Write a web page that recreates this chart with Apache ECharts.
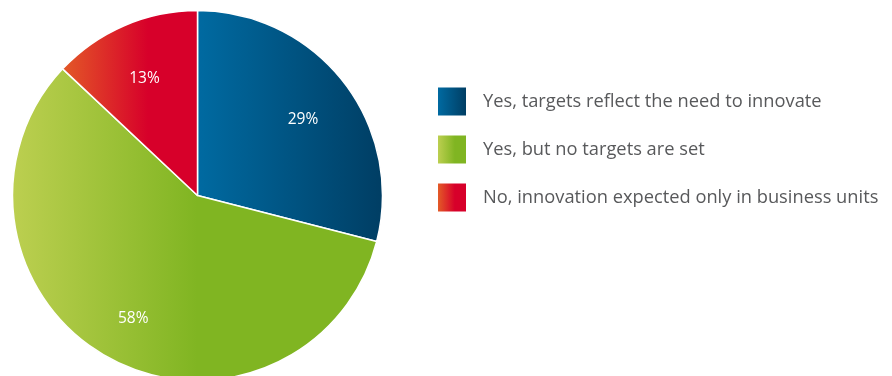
<!DOCTYPE html>
<html>
<head>
<meta charset="utf-8">
<script src="https://cdn.jsdelivr.net/npm/echarts@6/dist/echarts.min.js"></script>
<style>
  html, body { margin: 0; padding: 0; background: #fff; }
  #chart { width: 892px; height: 376px; }
</style>
</head>
<body>
<div id="chart"></div>
<script>
// Survey answers and their shares (%)
const categories = [
  'Yes, targets reflect the need to innovate',
  'Yes, but no targets are set',
  'No, innovation expected only in business units'
];
const shares = [29, 58, 13];
const valueLabels = ['29%', '58%', '13%'];

const cx = 197.5, cy = 195.5, R = 185;

// Horizontal gradients across each slice (page coordinates)
const sliceFills = [
  { type: 'linear', global: true, x: 198, y: 0, x2: 382, y2: 0,
    colorStops: [{ offset: 0, color: '#006aa1' }, { offset: 1, color: '#003e64' }] },
  { type: 'linear', global: true, x: 13, y: 0, x2: 197, y2: 0,
    colorStops: [{ offset: 0, color: '#bccf50' }, { offset: 1, color: '#80b522' }] },
  { type: 'linear', global: true, x: 60, y: 0, x2: 148, y2: 0,
    colorStops: [{ offset: 0, color: '#e35b27' }, { offset: 1, color: '#d7002a' }] }
];
// Same ramps for the legend swatches (relative to each swatch)
const swatchFills = [
  { type: 'linear', x: 0, y: 0, x2: 1, y2: 0,
    colorStops: [{ offset: 0, color: '#006aa1' }, { offset: 1, color: '#003e64' }] },
  { type: 'linear', x: 0, y: 0, x2: 1, y2: 0,
    colorStops: [{ offset: 0, color: '#bccf50' }, { offset: 0.6, color: '#80b522' }, { offset: 1, color: '#80b522' }] },
  { type: 'linear', x: 0, y: 0, x2: 1, y2: 0,
    colorStops: [{ offset: 0, color: '#e35b27' }, { offset: 0.6, color: '#d7002a' }, { offset: 1, color: '#d7002a' }] }
];

const chart = echarts.init(document.getElementById('chart'), null, { renderer: 'canvas' });

const pieData = categories.map((name, i) => ({
  name, value: shares[i], itemStyle: { color: sliceFills[i] }
}));
const labelData = categories.map((name, i) => ({
  name, value: shares[i], label: { formatter: valueLabels[i] }
}));

chart.setOption({
  animation: false,
  legend: {
    orient: 'vertical',
    left: 438,
    top: 87.5,
    padding: 0,
    itemWidth: 28,
    itemHeight: 28,
    itemGap: 20,
    icon: 'rect',
    selectedMode: false,
    itemStyle: { borderWidth: 0 },
    textStyle: {
      fontFamily: 'Open Sans',
      fontSize: 18.3,
      color: '#58595b',
      padding: [0, 0, 0, 12]
    },
    data: categories.map((name, i) => ({ name, itemStyle: { color: swatchFills[i], borderWidth: 0 } }))
  },
  series: [
    {
      type: 'pie',
      center: [cx, cy],
      radius: [0, R],
      startAngle: 90,
      clockwise: true,
      silent: true,
      label: { show: false },
      labelLine: { show: false },
      itemStyle: { borderColor: '#ffffff', borderWidth: 1.5 },
      data: pieData
    },
    {
      // transparent ring that only carries the percentage labels
      type: 'pie',
      center: [cx, cy],
      radius: [76, R],
      startAngle: 90,
      clockwise: true,
      silent: true,
      legendHoverLink: false,
      itemStyle: { color: 'rgba(0,0,0,0)' },
      label: {
        show: true,
        position: 'inside',
        color: '#ffffff',
        fontFamily: 'Open Sans',
        fontSize: 15.5
      },
      labelLayout: { dy: 6 },
      labelLine: { show: false },
      data: labelData
    }
  ]
});
</script>
</body>
</html>
